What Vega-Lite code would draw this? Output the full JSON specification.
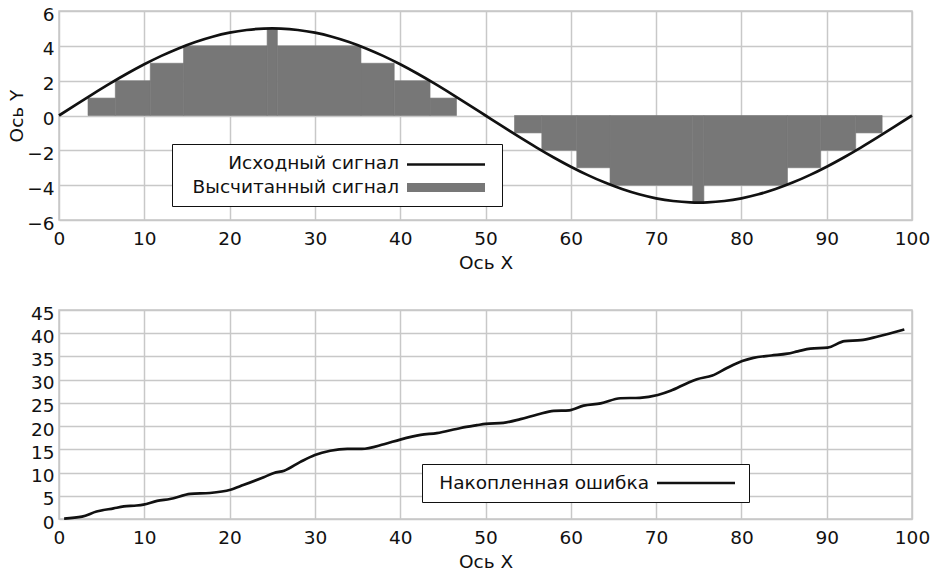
{
  "$schema": "https://vega.github.io/schema/vega-lite/v6.json",
  "background": "white",
  "padding": {"left": 6, "top": 4, "right": 20, "bottom": 0},
  "spacing": 30,
  "datasets": {
    "sine": [
      {"x": 0, "y": 0}, {"x": 2, "y": 0.627}, {"x": 4, "y": 1.243}, {"x": 6, "y": 1.841}, {"x": 8, "y": 2.409},
      {"x": 10, "y": 2.939}, {"x": 12, "y": 3.423}, {"x": 14, "y": 3.853}, {"x": 16, "y": 4.222}, {"x": 18, "y": 4.524},
      {"x": 20, "y": 4.755}, {"x": 22, "y": 4.911}, {"x": 24, "y": 4.99}, {"x": 25, "y": 5}, {"x": 26, "y": 4.99},
      {"x": 28, "y": 4.911}, {"x": 30, "y": 4.755}, {"x": 32, "y": 4.524}, {"x": 34, "y": 4.222}, {"x": 36, "y": 3.853},
      {"x": 38, "y": 3.423}, {"x": 40, "y": 2.939}, {"x": 42, "y": 2.409}, {"x": 44, "y": 1.841}, {"x": 46, "y": 1.243},
      {"x": 48, "y": 0.627}, {"x": 50, "y": 0}, {"x": 52, "y": -0.627}, {"x": 54, "y": -1.243}, {"x": 56, "y": -1.841},
      {"x": 58, "y": -2.409}, {"x": 60, "y": -2.939}, {"x": 62, "y": -3.423}, {"x": 64, "y": -3.853}, {"x": 66, "y": -4.222},
      {"x": 68, "y": -4.524}, {"x": 70, "y": -4.755}, {"x": 72, "y": -4.911}, {"x": 74, "y": -4.99}, {"x": 75, "y": -5},
      {"x": 76, "y": -4.99}, {"x": 78, "y": -4.911}, {"x": 80, "y": -4.755}, {"x": 82, "y": -4.524}, {"x": 84, "y": -4.222},
      {"x": 86, "y": -3.853}, {"x": 88, "y": -3.423}, {"x": 90, "y": -2.939}, {"x": 92, "y": -2.409}, {"x": 94, "y": -1.841},
      {"x": 96, "y": -1.243}, {"x": 98, "y": -0.627}, {"x": 100, "y": 0}
    ],
    "steps": [
      {"x": 3.4, "x2": 6.6, "y": 1}, {"x": 6.6, "x2": 10.7, "y": 2}, {"x": 10.7, "x2": 14.6, "y": 3},
      {"x": 14.6, "x2": 24.4, "y": 4}, {"x": 24.4, "x2": 25.6, "y": 5}, {"x": 25.6, "x2": 35.4, "y": 4},
      {"x": 35.4, "x2": 39.3, "y": 3}, {"x": 39.3, "x2": 43.5, "y": 2}, {"x": 43.5, "x2": 46.6, "y": 1},
      {"x": 53.4, "x2": 56.6, "y": -1}, {"x": 56.6, "x2": 60.7, "y": -2}, {"x": 60.7, "x2": 64.6, "y": -3},
      {"x": 64.6, "x2": 74.3, "y": -4}, {"x": 74.3, "x2": 75.6, "y": -5}, {"x": 75.6, "x2": 85.4, "y": -4},
      {"x": 85.4, "x2": 89.3, "y": -3}, {"x": 89.3, "x2": 93.4, "y": -2}, {"x": 93.4, "x2": 96.5, "y": -1}
    ],
    "error": [
      {"x": 0.6, "e": 0.1}, {"x": 2.7, "e": 0.5}, {"x": 4.4, "e": 1.6}, {"x": 6.4, "e": 2.3}, {"x": 7.6, "e": 2.7},
      {"x": 9.1, "e": 2.9}, {"x": 9.9, "e": 3.1}, {"x": 11.5, "e": 3.9}, {"x": 13.0, "e": 4.3}, {"x": 15.4, "e": 5.4},
      {"x": 17.7, "e": 5.6}, {"x": 20.1, "e": 6.3}, {"x": 21.6, "e": 7.3}, {"x": 24.0, "e": 9.0}, {"x": 25.2, "e": 9.9},
      {"x": 26.4, "e": 10.4}, {"x": 28.3, "e": 12.3}, {"x": 30.0, "e": 13.8}, {"x": 31.8, "e": 14.7}, {"x": 33.8, "e": 15.1},
      {"x": 35.5, "e": 15.1}, {"x": 38.1, "e": 16.1}, {"x": 40.0, "e": 17.1}, {"x": 42.4, "e": 18.1}, {"x": 44.3, "e": 18.5},
      {"x": 47.1, "e": 19.6}, {"x": 49.0, "e": 20.2}, {"x": 50.0, "e": 20.5}, {"x": 52.1, "e": 20.7}, {"x": 54.1, "e": 21.5},
      {"x": 56.1, "e": 22.5}, {"x": 58.0, "e": 23.3}, {"x": 59.8, "e": 23.4}, {"x": 61.5, "e": 24.4}, {"x": 63.5, "e": 24.9},
      {"x": 65.8, "e": 26.0}, {"x": 68.1, "e": 26.1}, {"x": 70.2, "e": 26.7}, {"x": 71.7, "e": 27.6}, {"x": 73.7, "e": 29.3},
      {"x": 74.8, "e": 30.1}, {"x": 76.6, "e": 30.9}, {"x": 78.3, "e": 32.5}, {"x": 80.1, "e": 34.0}, {"x": 81.4, "e": 34.7},
      {"x": 83.5, "e": 35.2}, {"x": 85.4, "e": 35.6}, {"x": 86.6, "e": 36.1}, {"x": 88.1, "e": 36.7}, {"x": 90.1, "e": 36.9},
      {"x": 92.1, "e": 38.3}, {"x": 94.0, "e": 38.5}, {"x": 96.0, "e": 39.3}, {"x": 99.1, "e": 40.8}
    ]
  },
  "config": {
    "font": "DejaVu Sans",
    "view": {"stroke": "#c8c8c8", "strokeWidth": 1.5},
    "axis": {
      "grid": true, "gridColor": "#c8c8c8", "gridWidth": 1.5, "domain": false, "ticks": false,
      "labelFont": "DejaVu Sans", "labelFontSize": 18.5, "labelColor": "#111",
      "titleFont": "DejaVu Sans", "titleFontSize": 18.5, "titleFontWeight": "normal", "titleColor": "#111",
      "labelOverlap": false
    },
    "axisX": {"labelFlush": false, "labelPadding": 9, "titlePadding": 6},
    "axisY": {"labelPadding": 5, "titlePadding": 0, "labelOffset": 3},
    "legend": {
      "orient": "none", "direction": "vertical", "strokeColor": "#111", "fillColor": "white", "padding": 9,
      "labelFont": "DejaVu Sans", "labelFontSize": 18.5, "labelColor": "#111", "labelLimit": 400,
      "symbolSize": 6084, "rowPadding": 4
    }
  },
  "resolve": {"scale": {"color": "independent"}, "legend": {"color": "independent"}},
  "vconcat": [
    {
      "width": 853,
      "height": 209,
      "encoding": {
        "x": {"field": "x", "type": "quantitative", "scale": {"domain": [0, 100], "nice": false},
              "axis": {"values": [0, 10, 20, 30, 40, 50, 60, 70, 80, 90, 100], "title": "Ось X"}},
        "y": {"field": "y", "type": "quantitative", "scale": {"domain": [-6, 6], "nice": false},
              "axis": {"values": [-6, -4, -2, 0, 2, 4, 6], "title": "Ось Y", "labelOverlap": false}},
        "color": {
          "field": "series", "type": "nominal",
          "scale": {"domain": ["Исходный сигнал", "Высчитанный сигнал"], "range": ["#111111", "#777777"]},
          "legend": {
            "title": null, "legendX": 113, "legendY": 133,
            "encode": {
              "labels": {"update": {"x": {"value": 218}, "y": {"value": 10}, "align": {"value": "right"}, "baseline": {"value": "middle"}}},
              "symbols": {"update": {
                "x": {"value": 265},
                "y": {"signal": "datum.value === 'Исходный сигнал' ? 11.5 : 10.5"},
                "shape": {"value": "M-1,0H1M1.07,0"},
                "fill": {"value": "transparent"},
                "stroke": {"signal": "datum.value === 'Исходный сигнал' ? '#111111' : '#777777'"},
                "strokeWidth": {"signal": "datum.value === 'Исходный сигнал' ? 2.7 : 9"},
                "strokeCap": {"value": "butt"},
                "strokeJoin": {"value": "round"},
                "opacity": {"value": 1}, "strokeOpacity": {"value": 1}
              }}
            }
          }
        }
      },
      "layer": [
        {
          "data": {"name": "steps"},
          "transform": [{"calculate": "'Высчитанный сигнал'", "as": "series"}],
          "mark": {"type": "rect", "stroke": "#777777", "strokeWidth": 0.6},
          "encoding": {
            "x2": {"field": "x2"},
            "y2": {"datum": 0}
          }
        },
        {
          "data": {"name": "sine"},
          "transform": [{"calculate": "'Исходный сигнал'", "as": "series"}],
          "mark": {"type": "line", "interpolate": "monotone", "strokeWidth": 2.7},
          "encoding": {}
        }
      ]
    },
    {
      "width": 853,
      "height": 209,
      "data": {"name": "error"},
      "transform": [{"calculate": "'Накопленная ошибка'", "as": "series"}],
      "mark": {"type": "line", "interpolate": "monotone", "strokeWidth": 2.7},
      "encoding": {
        "x": {"field": "x", "type": "quantitative", "scale": {"domain": [0, 100], "nice": false},
              "axis": {"values": [0, 10, 20, 30, 40, 50, 60, 70, 80, 90, 100], "title": "Ось X"}},
        "y": {"field": "e", "type": "quantitative", "scale": {"domain": [0, 45], "nice": false},
              "axis": {"values": [0, 5, 10, 15, 20, 25, 30, 35, 40, 45], "title": null, "labelOverlap": false}},
        "color": {
          "field": "series", "type": "nominal",
          "scale": {"domain": ["Накопленная ошибка"], "range": ["#111111"]},
          "legend": {
            "title": null, "legendX": 363, "legendY": 154,
            "encode": {
              "labels": {"update": {"x": {"value": 218}, "y": {"value": 10}, "align": {"value": "right"}, "baseline": {"value": "middle"}}},
              "symbols": {"update": {
                "x": {"value": 265}, "y": {"value": 10},
                "shape": {"value": "M-1,0H1M1.07,0"},
                "fill": {"value": "transparent"},
                "stroke": {"value": "#111111"},
                "strokeWidth": {"value": 2.7},
                "strokeCap": {"value": "butt"},
                "strokeJoin": {"value": "round"},
                "opacity": {"value": 1}, "strokeOpacity": {"value": 1}
              }}
            }
          }
        }
      }
    }
  ]
}
